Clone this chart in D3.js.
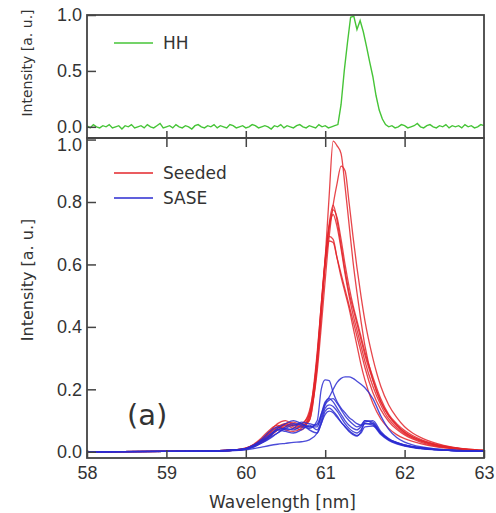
<!DOCTYPE html>
<html>
<head>
<meta charset="utf-8">
<script src="https://cdn.jsdelivr.net/npm/d3@7"></script>
<style>
  body { margin: 0; background: #fff; }
  svg { display: block; font-family: "DejaVu Sans", Verdana, sans-serif; }
  .axis path { display: none; }
  .axis line { stroke: #444; stroke-width: 1.5; }
  .axis text { fill: #333; font-size: 18px; }
  .frame { fill: none; stroke: #444; stroke-width: 1.8; }
  .lbl { fill: #333; }
</style>
</head>
<body>
<svg id="chart" width="496" height="513"></svg>
<script>
// HH spectrum, sampled every 0.04 nm from 58 nm
const hh_start = 58;
const hh_step = 0.04;
const hh_values = [
  0.01, -0.01, 0.02, 0.00, -0.01, 0.01, 0.00, 0.02, -0.01, 0.00,
  0.01, -0.02, 0.01, 0.00, 0.02, -0.01, 0.00, 0.01, -0.01, 0.02,
  0.00, -0.01, 0.01, 0.03, -0.01, 0.00, 0.01, -0.01, 0.02, 0.00,
  -0.01, 0.01, 0.00, -0.02, 0.01, 0.02, 0.00, -0.01, 0.01, 0.00,
  0.02, -0.01, 0.01, 0.00, -0.01, 0.02, 0.01, -0.01, 0.00, 0.01,
  -0.01, 0.00, 0.02, 0.01, -0.01, 0.00, 0.01, 0.00, -0.02, 0.01,
  0.00, 0.02, -0.01, 0.01, 0.00, -0.01, 0.01, 0.02, 0.00, -0.01,
  0.01, 0.00, -0.01, 0.02, 0.00, 0.01, -0.01, 0.00, 0.01,
  0.02, 0.20, 0.50, 0.75, 0.98, 0.99, 0.87, 0.95, 0.85, 0.72,
  0.58, 0.45, 0.28, 0.15, 0.07, 0.02, 0.00,
  0.01, -0.01, 0.00, 0.02, 0.01, -0.01, 0.00, 0.01, 0.03, 0.00,
  -0.01, 0.01, 0.02, 0.00, -0.01, 0.01, 0.00, 0.02, -0.01, 0.01,
  0.00, 0.01, -0.01, 0.02, 0.00, 0.01, -0.01, 0.00, 0.02, 0.01
];

// wavelength grid for the seeded / SASE shots
const wavelengths = [58, 59, 59.5, 59.8, 60, 60.1, 60.2, 60.3, 60.4, 60.5, 60.6, 60.7, 60.8, 60.9, 60.95,
  61.0, 61.05, 61.1, 61.15, 61.2, 61.25, 61.3, 61.35, 61.4, 61.45, 61.5, 61.6, 61.7, 61.8, 61.9,
  62.0, 62.1, 62.2, 62.4, 62.6, 62.8, 63];

const seeded_1 = [0, 0.001, 0.002, 0.005, 0.012, 0.022, 0.04, 0.06, 0.08, 0.085, 0.075, 0.085, 0.13, 0.3, 0.45, 0.62, 0.82, 0.995, 0.98, 0.955, 0.85, 0.73, 0.61, 0.51, 0.42, 0.34, 0.23, 0.16, 0.115, 0.085, 0.062, 0.047, 0.036, 0.021, 0.012, 0.007, 0.004];
const seeded_2 = [0, 0.001, 0.002, 0.004, 0.01, 0.02, 0.035, 0.055, 0.07, 0.08, 0.085, 0.09, 0.12, 0.26, 0.4, 0.55, 0.69, 0.79, 0.86, 0.915, 0.9, 0.8, 0.69, 0.59, 0.5, 0.42, 0.3, 0.21, 0.15, 0.11, 0.08, 0.06, 0.046, 0.027, 0.015, 0.008, 0.004];
const seeded_3 = [0, 0.001, 0.002, 0.005, 0.011, 0.022, 0.04, 0.065, 0.09, 0.1, 0.085, 0.08, 0.11, 0.3, 0.46, 0.61, 0.73, 0.79, 0.74, 0.66, 0.58, 0.51, 0.46, 0.41, 0.36, 0.31, 0.23, 0.16, 0.115, 0.085, 0.063, 0.048, 0.037, 0.022, 0.013, 0.007, 0.004];
const seeded_4 = [0, 0.001, 0.002, 0.004, 0.01, 0.018, 0.032, 0.05, 0.075, 0.09, 0.095, 0.085, 0.1, 0.28, 0.44, 0.6, 0.72, 0.775, 0.75, 0.68, 0.6, 0.53, 0.47, 0.42, 0.37, 0.32, 0.24, 0.17, 0.12, 0.09, 0.068, 0.052, 0.04, 0.024, 0.014, 0.008, 0.004];
const seeded_5 = [0, 0.001, 0.002, 0.005, 0.012, 0.024, 0.045, 0.07, 0.085, 0.07, 0.065, 0.075, 0.12, 0.32, 0.47, 0.62, 0.72, 0.76, 0.72, 0.65, 0.57, 0.5, 0.44, 0.39, 0.34, 0.29, 0.21, 0.15, 0.105, 0.078, 0.058, 0.044, 0.034, 0.02, 0.012, 0.007, 0.004];
const seeded_6 = [0, 0.001, 0.002, 0.005, 0.011, 0.02, 0.038, 0.06, 0.08, 0.09, 0.08, 0.07, 0.11, 0.31, 0.47, 0.61, 0.69, 0.68, 0.62, 0.56, 0.51, 0.46, 0.4, 0.34, 0.28, 0.23, 0.155, 0.105, 0.075, 0.055, 0.042, 0.033, 0.026, 0.016, 0.01, 0.006, 0.003];
const seeded_7 = [0, 0.001, 0.002, 0.004, 0.009, 0.017, 0.03, 0.048, 0.07, 0.085, 0.09, 0.08, 0.1, 0.29, 0.45, 0.6, 0.675, 0.67, 0.62, 0.57, 0.52, 0.47, 0.42, 0.37, 0.32, 0.27, 0.19, 0.135, 0.097, 0.072, 0.054, 0.041, 0.031, 0.018, 0.01, 0.006, 0.003];

const sase_1 = [0, 0.001, 0.002, 0.005, 0.01, 0.02, 0.035, 0.05, 0.07, 0.075, 0.07, 0.08, 0.075, 0.1, 0.2, 0.23, 0.228, 0.19, 0.16, 0.14, 0.125, 0.11, 0.1, 0.09, 0.085, 0.09, 0.085, 0.06, 0.04, 0.03, 0.022, 0.017, 0.013, 0.008, 0.005, 0.003, 0.002];
const sase_2 = [0, 0.001, 0.002, 0.004, 0.008, 0.016, 0.028, 0.042, 0.06, 0.08, 0.09, 0.085, 0.08, 0.09, 0.12, 0.155, 0.175, 0.2, 0.222, 0.235, 0.24, 0.24, 0.235, 0.226, 0.216, 0.205, 0.17, 0.115, 0.072, 0.046, 0.031, 0.022, 0.016, 0.009, 0.005, 0.003, 0.002];
const sase_3 = [0, 0.001, 0.002, 0.005, 0.01, 0.02, 0.036, 0.055, 0.075, 0.09, 0.1, 0.09, 0.08, 0.08, 0.12, 0.16, 0.17, 0.16, 0.14, 0.12, 0.1, 0.085, 0.075, 0.07, 0.08, 0.1, 0.095, 0.06, 0.04, 0.028, 0.02, 0.015, 0.011, 0.007, 0.004, 0.003, 0.002];
const sase_4 = [0, 0.001, 0.002, 0.004, 0.009, 0.018, 0.032, 0.05, 0.07, 0.065, 0.06, 0.07, 0.085, 0.07, 0.1, 0.14, 0.15, 0.145, 0.13, 0.11, 0.09, 0.075, 0.065, 0.06, 0.07, 0.09, 0.09, 0.058, 0.038, 0.027, 0.02, 0.015, 0.011, 0.007, 0.004, 0.003, 0.002];
const sase_5 = [0, 0.001, 0.002, 0.004, 0.008, 0.015, 0.028, 0.045, 0.06, 0.075, 0.085, 0.09, 0.07, 0.06, 0.09, 0.13, 0.14, 0.13, 0.115, 0.095, 0.08, 0.065, 0.055, 0.05, 0.065, 0.095, 0.1, 0.065, 0.042, 0.029, 0.021, 0.016, 0.012, 0.007, 0.004, 0.003, 0.002];
const sase_6 = [0, 0.001, 0.002, 0.003, 0.006, 0.01, 0.015, 0.02, 0.024, 0.027, 0.03, 0.032, 0.038, 0.06, 0.09, 0.12, 0.13, 0.125, 0.11, 0.095, 0.08, 0.068, 0.058, 0.052, 0.06, 0.08, 0.082, 0.055, 0.036, 0.025, 0.018, 0.013, 0.01, 0.006, 0.004, 0.002, 0.001];
const sase_7 = [0, 0.001, 0.002, 0.005, 0.011, 0.022, 0.04, 0.065, 0.08, 0.07, 0.075, 0.095, 0.09, 0.085, 0.11, 0.15, 0.165, 0.17, 0.155, 0.135, 0.115, 0.1, 0.088, 0.08, 0.085, 0.1, 0.09, 0.06, 0.04, 0.029, 0.021, 0.016, 0.012, 0.007, 0.004, 0.003, 0.002];

const seeded_shots = [seeded_1, seeded_2, seeded_3, seeded_4, seeded_5, seeded_6, seeded_7];
const sase_shots = [sase_1, sase_2, sase_3, sase_4, sase_5, sase_6, sase_7];

const x_ticks = [58, 59, 60, 61, 62, 63];
const top_y_ticks = [0, 0.5, 1.0];
const bottom_y_ticks = [0, 0.2, 0.4, 0.6, 0.8, 1.0];

const GREEN = '#46c437';
const RED = '#e3262b';
const BLUE = '#2b2bd1';

const svg = d3.select('#chart');
const left = 87, right = 484;
const top_y0 = 15, split_y = 138, bottom_y1 = 458;

// SCALES
const xScale = d3.scaleLinear().domain([58, 63]).range([left, right]);
const yTop = d3.scaleLinear().domain([-0.1, 1.0]).range([split_y, top_y0]);
const yBot = d3.scaleLinear().domain([-0.02, 1.005]).range([bottom_y1, split_y]);

// CLIPS
const defs = svg.append('defs');
defs.append('clipPath').attr('id', 'clip_top').append('rect')
  .attr('x', left).attr('y', top_y0).attr('width', right - left).attr('height', split_y - top_y0);
defs.append('clipPath').attr('id', 'clip_bot').append('rect')
  .attr('x', left).attr('y', split_y).attr('width', right - left).attr('height', bottom_y1 - split_y);

// TOP PANEL LINE
const hh_points = hh_values.map((v, i) => [hh_start + i * hh_step, v]);
const topLine = d3.line().x(d => xScale(d[0])).y(d => yTop(d[1]));
svg.append('path')
  .attr('clip-path', 'url(#clip_top)')
  .attr('d', topLine(hh_points))
  .attr('fill', 'none').attr('stroke', GREEN).attr('stroke-width', 1.4);

// BOTTOM PANEL LINES
const botLine = d3.line()
  .x((d, i) => xScale(wavelengths[i]))
  .y(d => yBot(d))
  .curve(d3.curveMonotoneX);

const bot = svg.append('g').attr('clip-path', 'url(#clip_bot)');
bot.selectAll('path.seeded').data(seeded_shots).enter().append('path')
  .attr('class', 'seeded')
  .attr('d', d => botLine(d))
  .attr('fill', 'none').attr('stroke', RED).attr('stroke-width', 1.3).attr('stroke-opacity', 0.85);
bot.selectAll('path.sase').data(sase_shots).enter().append('path')
  .attr('class', 'sase')
  .attr('d', d => botLine(d))
  .attr('fill', 'none').attr('stroke', BLUE).attr('stroke-width', 1.3).attr('stroke-opacity', 0.85);

// AXES
const fmt = d3.format('.1f');
svg.append('g').attr('class', 'axis').attr('transform', `translate(${left},0)`)
  .call(d3.axisLeft(yTop).tickValues(top_y_ticks).tickFormat(fmt).tickSizeInner(-9).tickSizeOuter(0).tickPadding(5));
const botAxis = svg.append('g').attr('class', 'axis').attr('transform', `translate(${left},0)`)
  .call(d3.axisLeft(yBot).tickValues(bottom_y_ticks).tickFormat(fmt).tickSizeInner(-9).tickSizeOuter(0).tickPadding(5));
// top label of the lower panel sits a little lower, clear of the "0.0" above
botAxis.selectAll('.tick').filter(d => d === 1.0).select('text').attr('dy', '0.62em');

const inner_x = x_ticks.slice(1, -1);
svg.append('g').attr('class', 'axis').attr('transform', `translate(0,${split_y})`)
  .call(d3.axisBottom(xScale).tickValues(inner_x).tickFormat('').tickSizeInner(-7).tickSizeOuter(0));
svg.append('g').attr('class', 'axis').attr('transform', `translate(0,${split_y})`)
  .call(d3.axisTop(xScale).tickValues(inner_x).tickFormat('').tickSizeInner(-9).tickSizeOuter(0));
svg.append('g').attr('class', 'axis').attr('transform', `translate(0,${bottom_y1})`)
  .call(d3.axisBottom(xScale).tickValues(x_ticks).tickFormat(d3.format('d')).tickSizeInner(-8).tickSizeOuter(0).tickPadding(8));

// FRAMES
svg.append('rect').attr('class', 'frame')
  .attr('x', left).attr('y', top_y0).attr('width', right - left).attr('height', split_y - top_y0);
svg.append('rect').attr('class', 'frame')
  .attr('x', left).attr('y', split_y).attr('width', right - left).attr('height', bottom_y1 - split_y);

// AXIS TITLES
svg.append('text').attr('class', 'lbl')
  .attr('x', (left + right) / 2 - 3).attr('y', 508)
  .attr('text-anchor', 'middle').style('font-size', '17px')
  .text('Wavelength [nm]');
svg.append('text').attr('class', 'lbl')
  .attr('transform', 'translate(32,63) rotate(-90)')
  .attr('text-anchor', 'middle').style('font-size', '14px')
  .text('Intensity [a. u.]');
svg.append('text').attr('class', 'lbl')
  .attr('transform', 'translate(33,280) rotate(-90)')
  .attr('text-anchor', 'middle').style('font-size', '16px')
  .text('Intensity [a. u.]');

// LEGENDS
const legend = [
  { label: 'HH', color: GREEN, y: 43 },
  { label: 'Seeded', color: RED, y: 173 },
  { label: 'SASE', color: BLUE, y: 198 }
];
legend.forEach(d => {
  svg.append('line')
    .attr('x1', 114).attr('x2', 153).attr('y1', d.y).attr('y2', d.y)
    .attr('stroke', d.color).attr('stroke-width', 1.5);
  svg.append('text').attr('class', 'lbl')
    .attr('x', 163).attr('y', d.y).attr('dy', '0.36em')
    .style('font-size', '17px')
    .text(d.label);
});

// PANEL MARK
svg.append('text').attr('class', 'lbl')
  .attr('x', 127).attr('y', 425)
  .style('font-size', '29px')
  .text('(a)');
</script>
</body>
</html>
